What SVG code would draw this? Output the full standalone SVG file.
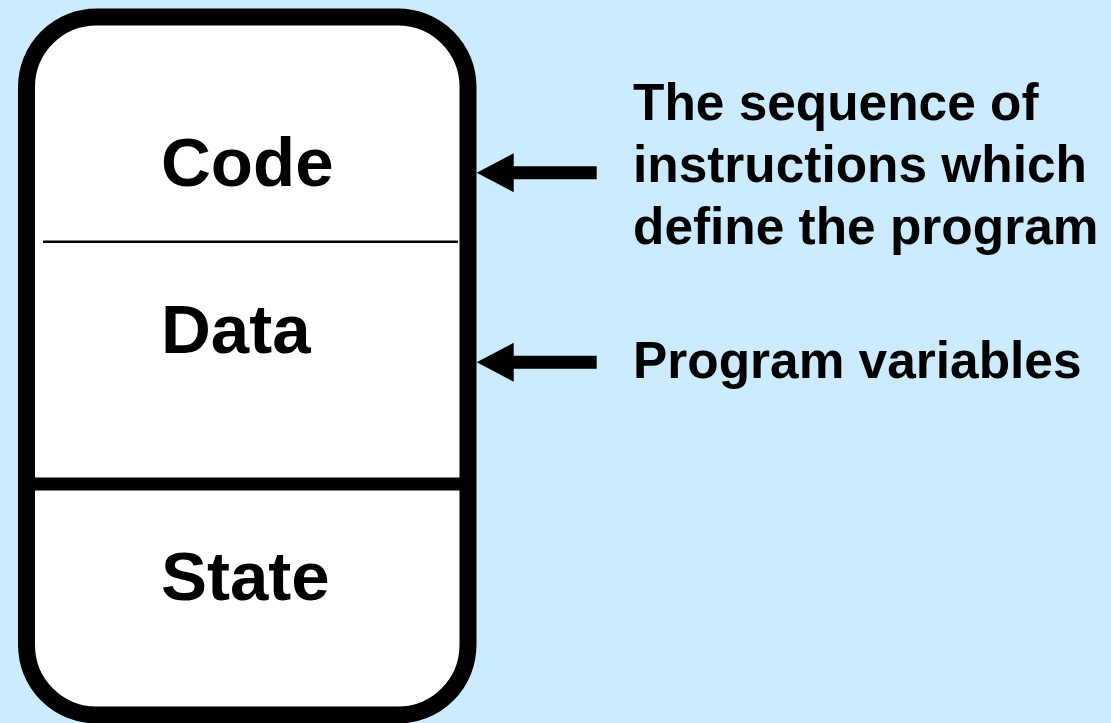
<svg xmlns="http://www.w3.org/2000/svg" width="1111" height="723" viewBox="0 0 1111 723">
  <defs>
    <style>
      .lbl { font-family: "Liberation Sans", Arial, sans-serif; font-weight: bold; fill: #000; }
      .box-label { font-size: 69px; }
      .note { font-size: 51.4px; }
      .arrow { fill: #000; }
    </style>
    <!-- left-pointing block arrow, tip at origin -->
    <path id="block-arrow" class="arrow" d="M0,0 L37,-19.5 L37,-6.5 L120,-6.5 L120,6.5 L37,6.5 L37,19.5 Z"/>
  </defs>

  <rect x="0" y="0" width="1111" height="723" fill="#CCEBFF"/>

  <!-- process image box -->
  <g id="process-box">
    <rect x="26.5" y="17" width="441.5" height="698" rx="70" ry="70" fill="#FFFFFF" stroke="#000" stroke-width="17"/>
    <line x1="43" y1="241.7" x2="458" y2="241.7" stroke="#000" stroke-width="2.5"/>
    <line x1="35" y1="484" x2="460" y2="484" stroke="#000" stroke-width="13"/>
  </g>

  <g id="code">
    <text class="lbl box-label" x="161" y="186">Code</text>
  </g>
  <g id="data">
    <text class="lbl box-label" x="161" y="353">Data</text>
  </g>
  <g id="state">
    <text class="lbl box-label" x="161" y="600">State</text>
  </g>

  <g id="code-note">
    <text class="lbl note" x="633" y="120">The sequence of</text>
    <text class="lbl note" x="633" y="182">instructions which</text>
    <text class="lbl note" x="633" y="244">define the program</text>
  </g>
  <g id="data-note">
    <text class="lbl note" x="633" y="378">Program variables</text>
  </g>

  <g id="connectors">
    <use href="#block-arrow" x="476.7" y="172.7"/>
    <use href="#block-arrow" x="476.7" y="362.3"/>
  </g>
</svg>
